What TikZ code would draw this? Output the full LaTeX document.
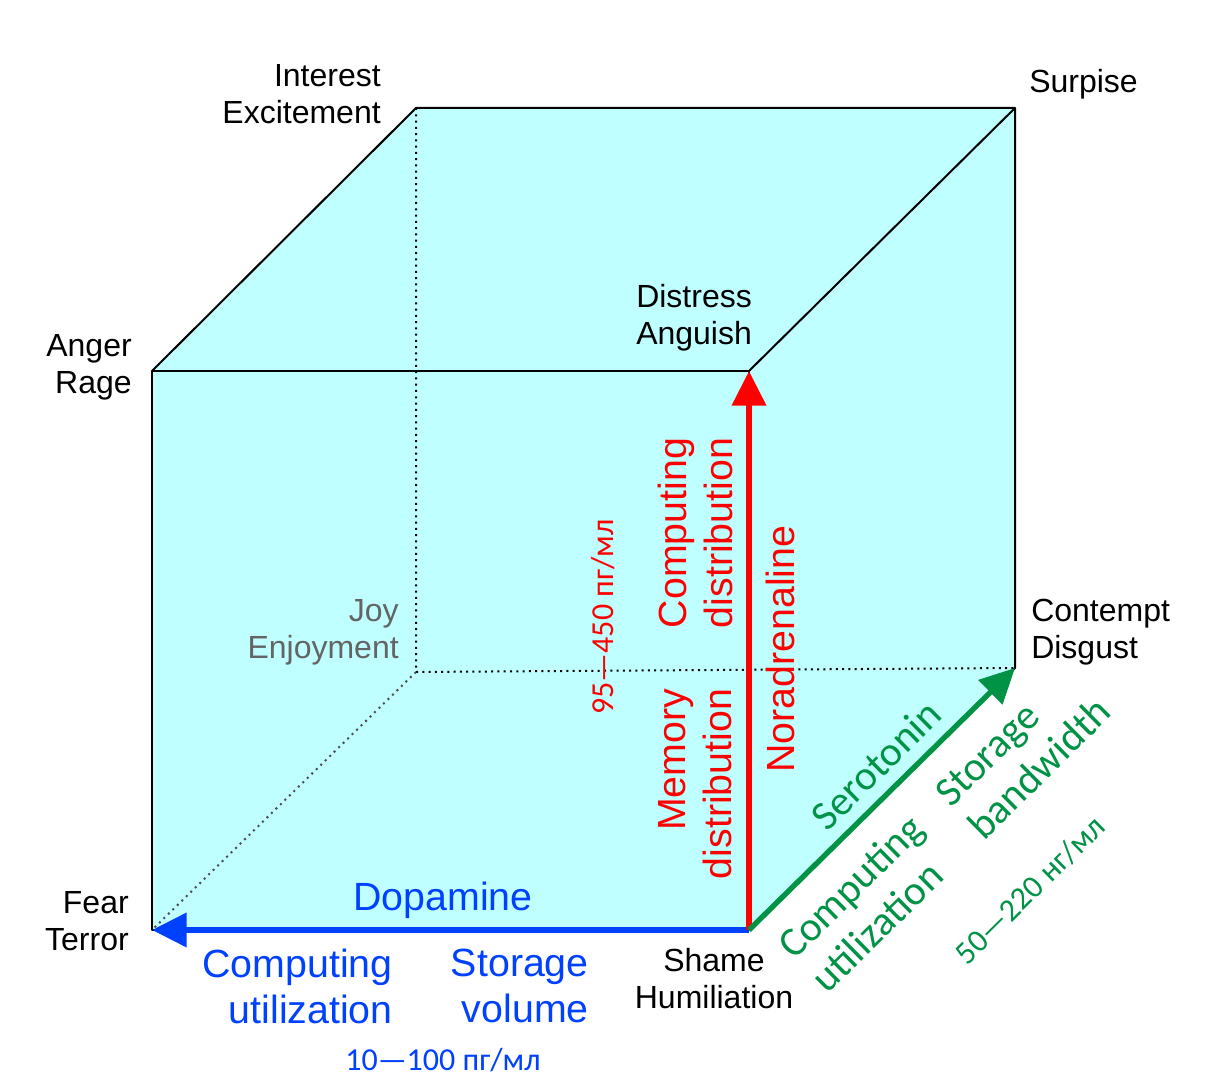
\documentclass[tikz,border=0pt]{standalone}
\usepackage{fontspec}
\setmainfont{Liberation Sans}
\newfontfamily\calfont{Carlito}
\usetikzlibrary{arrows.meta}
\definecolor{cubefill}{RGB}{191,255,255}
\definecolor{dopablue}{RGB}{0,64,255}
\definecolor{serogreen}{RGB}{0,146,69}
\definecolor{joygray}{RGB}{100,100,100}

\begin{document}
\begin{tikzpicture}[x=0.75pt, y=-0.75pt,
  emo/.style={font=\fontsize{24}{27.75}\selectfont, inner sep=0pt},
  big/.style={font=\fontsize{29.5}{34.5}\selectfont, inner sep=0pt},
  grn/.style={font=\calfont\fontsize{31}{35.5}\selectfont, inner sep=0pt, text=serogreen, rotate=44.6},
  conc/.style={font=\calfont\fontsize{24}{28}\selectfont, inner sep=0pt},
  edge/.style={line width=1.5pt, line join=round},
  hidden/.style={line width=1.5pt, dash pattern=on 1.5pt off 3.2pt},
  axis/.style={line width=4.5pt, -{Triangle[length=26pt,width=25pt]}}]
  \useasboundingbox (0,0) rectangle (1210,1080);

  % cube corners
  \coordinate (fear)     at (152,930);
  \coordinate (anger)    at (152,371);
  \coordinate (distress) at (749,371);
  \coordinate (shame)    at (749,930);
  \coordinate (interest) at (416,108);
  \coordinate (surprise) at (1015,108);
  \coordinate (contempt) at (1015,668);
  \coordinate (joy)      at (416,672);

  % cube body
  \fill[cubefill] (fear) -- (anger) -- (interest) -- (surprise) -- (contempt) -- (shame) -- cycle;
  \draw[edge] (shame) -- (fear) -- (anger) -- (distress) -- (shame);
  \draw[edge] (anger) -- (interest) -- (surprise) -- (distress);
  \draw[edge] (surprise) -- (contempt) -- (shame);

  % hidden edges
  \draw[hidden] (interest) -- (joy) -- (contempt);
  \draw[hidden, black!70] (joy) -- (fear);

  % corner labels
  \node[emo, anchor=east, align=right] (interestlbl) at (381,94) {Interest\\Excitement};
  \node[emo, anchor=west] (surpriselbl) at (1029,84) {Surpise};
  \node[emo, anchor=west, align=left] (distresslbl) at (636,318) {Distress\\Anguish};
  \node[emo, anchor=east, align=right] (angerlbl) at (132,367) {Anger\\Rage};
  \node[emo, anchor=east, align=right, text=joygray] (joylbl) at (399,632) {Joy\\Enjoyment};
  \node[emo, anchor=west, align=left] (contemptlbl) at (1031,632) {Contempt\\Disgust};
  \node[emo, anchor=east, align=right] (fearlbl) at (129,921) {Fear\\Terror};
  \node[emo, align=center] (shamelbl) at (714,979) {Shame\\Humiliation};

  % dopamine axis texts
  \node[big, text=dopablue] (dopalbl) at (443,900) {Dopamine};
  \node[big, text=dopablue, anchor=east, align=right] (dopacomp) at (393,986) {Computing\\utilization};
  \node[big, text=dopablue, anchor=east, align=right] (dopastor) at (589,986) {Storage\\volume};
  \node[conc, text=dopablue] (dopaconc) at (443,1060) {10—100 пг/мл};

  % noradrenaline axis texts
  \node[big, text=red, rotate=90, align=left] (noracomp) at (695,533) {Computing\\distribution};
  \node[big, text=red, rotate=90, align=right] (noramem) at (695,784) {Memory\\distribution};
  \node[big, text=red, rotate=90] (noralbl) at (780,649) {Noradrenaline};
  \node[conc, text=red, rotate=90] (noraconc) at (603,617) {95—450 пг/мл};

  % serotonin axis texts
  \node[grn] (serolbl) at (876,765) {Serotonin};
  \node[grn, align=left] (serocomp) at (867,903) {Computing\\utilization};
  \node[grn, align=left] (serostor) at (1023,752) {Storage\\bandwidth};
  \node[conc, text=serogreen, rotate=44.6] (seroconc) at (1030,890) {50—220 нг/мл};

  % axes
  \draw[axis, dopablue] (shame) -- (fear);
  \draw[axis, red] (shame) -- (distress);
  \draw[axis, serogreen, line width=4pt] (shame) -- (contempt);
\end{tikzpicture}
\end{document}
